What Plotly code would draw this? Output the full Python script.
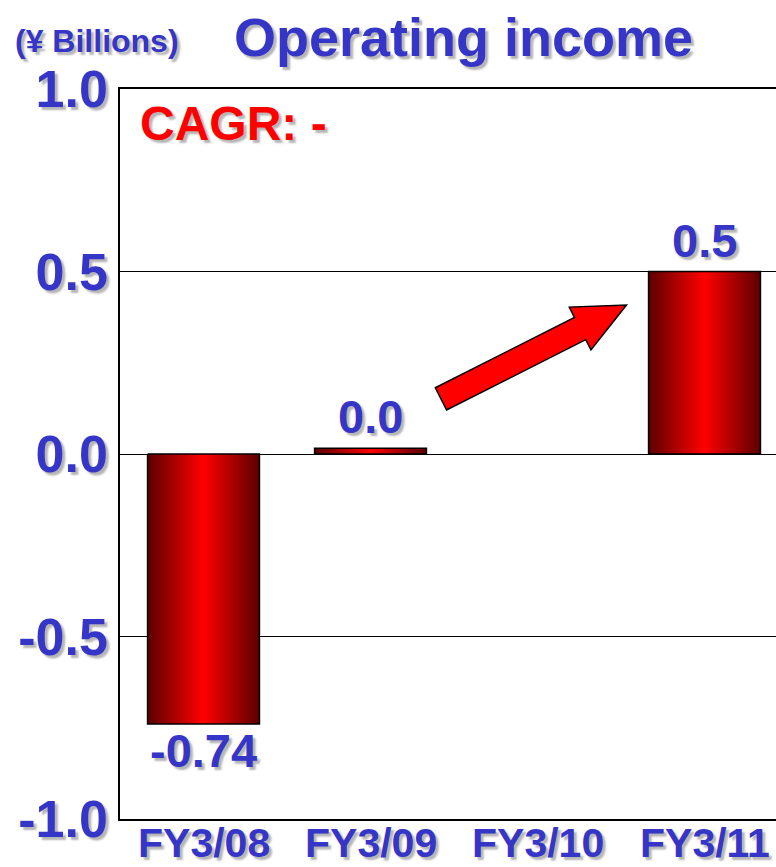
import math
import plotly.graph_objects as go

# Operating income by fiscal year (¥ billions)
categories = ["FY3/08", "FY3/09", "FY3/10", "FY3/11"]
values = [-0.74, 0.016, None, 0.5]
label_decimals = [2, 1, None, 1]

y_tickvals = [-1.0, -0.5, 0.0, 0.5, 1.0]
y_ticktext = ["-1.0", "-0.5", "0.0", "0.5", "1.0"]

BLUE = "#3535C8"
RED = "#FF0000"
SHADOW = "3px 3px 2px rgba(120,120,120,0.55)"
FONT = "Liberation Sans, Arial, sans-serif"

W, H = 776, 867
M_L, M_R, M_T, M_B = 120, 0, 89, 48
BAR_W = 0.67
X_RANGE = [-0.5, -0.5 + (W - M_L - M_R) / 167.0]
Y_RANGE = [-1.0, 1.0]

fig = go.Figure()

# Bars drawn as filled outlines so each can carry a horizontal shading
bar_scale = [[0.0, "#5c0000"], [0.5, "#ff0000"], [1.0, "#5c0000"]]
for i, v in enumerate(values):
    if v is None:
        continue
    x0, x1 = i - BAR_W / 2, i + BAR_W / 2
    fig.add_trace(go.Scatter(
        x=[x0, x0, x1, x1, x0], y=[0, v, v, 0, 0],
        mode="lines", fill="toself",
        fillgradient=dict(type="horizontal", colorscale=bar_scale),
        line=dict(color="black", width=1.5),
        hoverinfo="skip", showlegend=False,
    ))

# Value labels above / below each bar
for i, (v, d) in enumerate(zip(values, label_decimals)):
    if v is None:
        continue
    pos = v >= 0
    fig.add_annotation(
        x=i, y=v, xref="x", yref="y", text=f"{v:.{d}f}",
        showarrow=False, xanchor="center",
        yanchor="bottom" if pos else "top",
        yshift=3 if pos else 2,
        font=dict(family=FONT, size=47, color=BLUE, weight="bold", shadow=SHADOW),
    )

# Category labels under the axis
for i, c in enumerate(categories):
    fig.add_annotation(
        x=i, y=0, xref="x", yref="paper", text=c,
        showarrow=False, xanchor="center", yanchor="top", yshift=1,
        font=dict(family=FONT, size=41, color=BLUE, weight="bold", shadow=SHADOW),
    )

# Block arrow indicating the upward trend
plot_w = W - M_L - M_R
plot_h = H - M_T - M_B
sx = plot_w / (X_RANGE[1] - X_RANGE[0])
sy = plot_h / (Y_RANGE[1] - Y_RANGE[0])
tail = (1.422, 0.151)
tip = (2.533, 0.408)
shaft_px, head_w_px, head_l_px = 25, 48, 52
tx, ty = tail[0] * sx, tail[1] * sy
px_, py_ = tip[0] * sx, tip[1] * sy
L = math.hypot(px_ - tx, py_ - ty)
ux, uy = (px_ - tx) / L, (py_ - ty) / L
nx, ny = -uy, ux
bx, by = px_ - ux * head_l_px, py_ - uy * head_l_px
pts = [
    (tx + nx * shaft_px / 2, ty + ny * shaft_px / 2),
    (bx + nx * shaft_px / 2, by + ny * shaft_px / 2),
    (bx + nx * head_w_px / 2, by + ny * head_w_px / 2),
    (px_, py_),
    (bx - nx * head_w_px / 2, by - ny * head_w_px / 2),
    (bx - nx * shaft_px / 2, by - ny * shaft_px / 2),
    (tx - nx * shaft_px / 2, ty - ny * shaft_px / 2),
]
path = "M " + " L ".join(f"{x / sx:.5f},{y / sy:.5f}" for x, y in pts) + " Z"
fig.add_shape(type="path", path=path, xref="x", yref="y",
              fillcolor=RED, line=dict(color="black", width=1.5), layer="above")

# Titles and notes
fig.add_annotation(
    x=(463 - M_L) / plot_w, y=1 + (M_T - 37) / plot_h, xref="paper", yref="paper",
    text="Operating income", showarrow=False, xanchor="center", yanchor="middle",
    font=dict(family=FONT, size=54, color=BLUE, weight="bold", shadow=SHADOW),
)
fig.add_annotation(
    x=(97 - M_L) / plot_w, y=1 + (M_T - 41) / plot_h, xref="paper", yref="paper",
    text="(¥ Billions)", showarrow=False, xanchor="center", yanchor="middle",
    font=dict(family=FONT, size=32, color=BLUE, weight="bold", shadow=SHADOW),
)
fig.add_annotation(
    x=(138 - M_L) / plot_w, y=1 - (123 - M_T) / plot_h, xref="paper", yref="paper",
    text="CAGR: -", showarrow=False, xanchor="left", yanchor="middle",
    font=dict(family=FONT, size=48, color=RED, weight="bold", shadow=SHADOW),
)

fig.update_layout(
    width=W, height=H,
    margin=dict(l=M_L, r=M_R, t=M_T, b=M_B, pad=0),
    paper_bgcolor="white", plot_bgcolor="white",
    showlegend=False,
    xaxis=dict(
        range=X_RANGE, showticklabels=False,
        showgrid=False, zeroline=False, showline=True, mirror=True,
        linecolor="black", linewidth=2, ticks="", automargin=False,
    ),
    yaxis=dict(
        range=Y_RANGE, tickvals=y_tickvals, ticktext=y_ticktext,
        showgrid=True, gridcolor="black", gridwidth=1,
        zeroline=True, zerolinecolor="black", zerolinewidth=1,
        showline=True, mirror=False, linecolor="black", linewidth=1.5,
        ticks="", ticklabelstandoff=0, automargin=False,
        tickfont=dict(family=FONT, size=52, color=BLUE, weight="bold", shadow=SHADOW),
    ),
)

fig.write_html("out.html")
